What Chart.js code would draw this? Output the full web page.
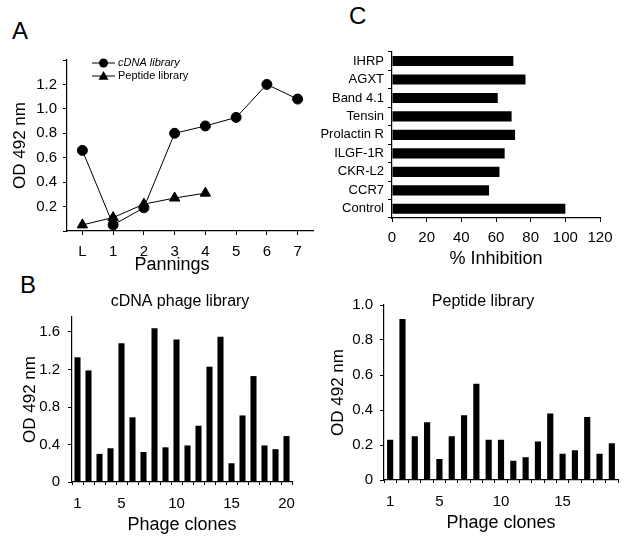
<!DOCTYPE html>
<html>
<head>
<meta charset="utf-8">
<script src="https://cdn.jsdelivr.net/npm/chart.js@4.4.0/dist/chart.umd.min.js"></script>
<style>
  body { margin: 0; background: #fff; }
  #fig { position: relative; width: 625px; height: 536px; overflow: hidden; font-family: "Liberation Sans", Arial, sans-serif; }
  #fig canvas { position: absolute; }
  .panel { position: absolute; font-size: 24px; color: #000; line-height: 1; }
</style>
</head>
<body>
<div id="fig">
  <div class="panel" style="left:12px;top:19px">A</div>
  <div class="panel" style="left:349px;top:4px">C</div>
  <div class="panel" style="left:20px;top:273px">B</div>
  <canvas id="chartA" width="320" height="240" style="left:0;top:40px"></canvas>
  <canvas id="chartC" width="325" height="240" style="left:300px;top:40px"></canvas>
  <canvas id="chartB1" width="310" height="251" style="left:0;top:285px"></canvas>
  <canvas id="chartB2" width="315" height="251" style="left:310px;top:285px"></canvas>
</div>
<script>
// Panel A: OD after each panning round
const panningRounds = ['L', '1', '2', '3', '4', '5', '6', '7'];
const cdnaPanning = [0.66, 0.05, 0.19, 0.80, 0.86, 0.93, 1.20, 1.08];
const peptidePanning = [0.05, 0.11, 0.22, 0.27, 0.31, null, null, null];

// Panel C: % inhibition
const inhibitionTargets = ['IHRP', 'AGXT', 'Band 4.1', 'Tensin', 'Prolactin R', 'ILGF-1R', 'CKR-L2', 'CCR7', 'Control'];
const inhibitionValues = [70, 77, 61, 69, 71, 65, 62, 56, 100];

// Panel B: individual phage clones
const cdnaClones = ['1','2','3','4','5','6','7','8','9','10','11','12','13','14','15','16','17','18','19','20'];
const cdnaCloneOD = [1.33, 1.19, 0.30, 0.36, 1.48, 0.69, 0.32, 1.64, 0.37, 1.52, 0.39, 0.60, 1.23, 1.55, 0.20, 0.71, 1.13, 0.39, 0.35, 0.49];
const peptideClones = ['1','2','3','4','5','6','7','8','9','10','11','12','13','14','15','16','17','18','19'];
const peptideCloneOD = [0.23, 0.92, 0.25, 0.33, 0.12, 0.25, 0.37, 0.55, 0.23, 0.23, 0.11, 0.13, 0.22, 0.38, 0.15, 0.17, 0.36, 0.15, 0.21];
const shownCloneTicks = ['1', '5', '10', '15', '20'];

const FONT = '"Liberation Sans", Arial, sans-serif';
Chart.defaults.font.family = FONT;
Chart.defaults.color = '#000';
Chart.defaults.animation = false;

// free text drawn on the canvas (subplot titles, off-centre axis title)
const notesPlugin = {
  id: 'notes',
  afterDraw(chart, args, opts) {
    const ctx = chart.ctx;
    (opts.items || []).forEach(n => {
      ctx.save();
      ctx.font = n.font;
      ctx.fillStyle = '#000';
      ctx.textAlign = n.align || 'center';
      ctx.textBaseline = 'middle';
      ctx.fillText(n.text, n.x, n.y);
      ctx.restore();
    });
  }
};

// legend with a line through the marker, like the original
const lineLegend = {
  id: 'lineLegend',
  afterDraw(chart, args, opts) {
    if (!opts.x) return;
    const ctx = chart.ctx;
    chart.data.datasets.forEach((ds, i) => {
      const y = opts.y + i * opts.gap;
      const cx = opts.x + opts.len / 2;
      ctx.save();
      ctx.strokeStyle = '#000';
      ctx.fillStyle = '#000';
      ctx.lineWidth = 1;
      ctx.beginPath();
      ctx.moveTo(opts.x, y);
      ctx.lineTo(opts.x + opts.len, y);
      ctx.stroke();
      ctx.beginPath();
      if (ds.pointStyle === 'triangle') {
        const r = 5;
        ctx.moveTo(cx, y - r);
        ctx.lineTo(cx + r, y + r * 0.75);
        ctx.lineTo(cx - r, y + r * 0.75);
        ctx.closePath();
      } else {
        ctx.arc(cx, y, 4.5, 0, Math.PI * 2);
      }
      ctx.fill();
      ctx.font = (ds.legendItalic ? 'italic ' : '') + '11px ' + FONT;
      ctx.textAlign = 'left';
      ctx.textBaseline = 'middle';
      ctx.fillText(ds.label, opts.x + opts.len + 3, y);
      ctx.restore();
    });
  }
};

function axisGrid() {
  return { display: true, drawOnChartArea: false, drawTicks: true, tickLength: 4, color: '#000', lineWidth: 1 };
}
function axisBorder() {
  return { display: true, color: '#000', width: 1.2 };
}

// ---- Panel A ----
new Chart(document.getElementById('chartA'), {
  type: 'line',
  data: {
    labels: panningRounds,
    datasets: [
      {
        label: 'cDNA library', data: cdnaPanning, legendItalic: true,
        borderColor: '#000', backgroundColor: '#000', borderWidth: 1,
        pointStyle: 'circle', pointRadius: 5, tension: 0
      },
      {
        label: 'Peptide library', data: peptidePanning,
        borderColor: '#000', backgroundColor: '#000', borderWidth: 1,
        pointStyle: 'triangle', pointRadius: 6, tension: 0
      }
    ]
  },
  options: {
    responsive: false,
    layout: { padding: { top: 20, right: 7, left: 0, bottom: 0 } },
    plugins: {
      legend: { display: false },
      tooltip: { enabled: false },
      lineLegend: { x: 25 + 67, y: 23, gap: 13, len: 23 },
      notes: { items: [{ text: 'Pannings', x: 172, y: 225, font: '18px ' + FONT }] }
    },
    scales: {
      x: {
        offset: true,
        grid: axisGrid(),
        border: axisBorder(),
        ticks: { font: { size: 15 }, padding: 8, maxRotation: 0 },
        afterFit(s) { s.height = 49; }
      },
      y: {
        min: 0, max: 1.4,
        grid: axisGrid(),
        border: axisBorder(),
        ticks: {
          stepSize: 0.2, font: { size: 15 }, padding: 6,
          callback: v => (v < 0.1 || v > 1.3) ? '' : v.toFixed(1)
        },
        title: { display: true, text: 'OD 492 nm', font: { size: 17 }, padding: { top: 10, bottom: 0 } },
        afterFit(s) { s.width = 67; }
      }
    }
  },
  plugins: [lineLegend, notesPlugin]
});

// ---- Panel C ----
new Chart(document.getElementById('chartC'), {
  type: 'bar',
  data: {
    labels: inhibitionTargets,
    datasets: [{ data: inhibitionValues, backgroundColor: '#000', barPercentage: 0.55, categoryPercentage: 1 }]
  },
  options: {
    responsive: false,
    indexAxis: 'y',
    layout: { padding: { top: 8, right: 25, left: 0, bottom: 0 } },
    plugins: { legend: { display: false }, tooltip: { enabled: false } },
    scales: {
      x: {
        min: 0, max: 120,
        grid: axisGrid(),
        border: axisBorder(),
        ticks: { stepSize: 20, font: { size: 15 }, padding: 7, maxRotation: 0 },
        title: { display: true, text: '% Inhibition', font: { size: 18 }, padding: { top: 0, bottom: 10 } },
        afterFit(s) { s.height = 62; }
      },
      y: {
        grid: axisGrid(),
        border: axisBorder(),
        ticks: { font: { size: 13 }, padding: 4, autoSkip: false },
        afterFit(s) { s.width = 92; }
      }
    }
  }
});

// ---- Panel B ----
function cloneChart(id, labels, values, yMax, yStep, yWidth, yPad, titlePad, pad, barPct, title) {
  return new Chart(document.getElementById(id), {
    type: 'bar',
    data: {
      labels: labels,
      datasets: [{ data: values, backgroundColor: '#000', barPercentage: barPct, categoryPercentage: 1 }]
    },
    options: {
      responsive: false,
      layout: { padding: pad },
      plugins: {
        legend: { display: false },
        tooltip: { enabled: false },
        notes: { items: [title] }
      },
      scales: {
        x: {
          grid: Object.assign(axisGrid(), { tickLength: 3 }),
          border: axisBorder(),
          ticks: {
            font: { size: 15 }, padding: 10, autoSkip: false, maxRotation: 0,
            callback: function (v) {
              const l = this.getLabelForValue(v);
              return shownCloneTicks.includes(l) ? l : '';
            }
          },
          title: { display: true, text: 'Phage clones', font: { size: 18 }, padding: { top: 0, bottom: 0 } },
          afterFit(s) { s.height = 54; }
        },
        y: {
          min: 0, max: yMax,
          grid: axisGrid(),
          border: axisBorder(),
          ticks: {
            stepSize: yStep, includeBounds: false, font: { size: 15 }, padding: yPad,
            callback: v => v === 0 ? '0' : v.toFixed(1)
          },
          title: { display: true, text: 'OD 492 nm', font: { size: 17 }, padding: { top: titlePad, bottom: 0 } },
          afterFit(s) { s.width = yWidth; }
        }
      }
    },
    plugins: [notesPlugin]
  });
}

cloneChart('chartB1', cdnaClones, cdnaCloneOD, 1.76, 0.4, 72, 8, 20,
  { top: 32, right: 18, left: 0, bottom: 0 }, 0.55,
  { text: 'cDNA phage library', x: 180, y: 17, font: '16px ' + FONT });

cloneChart('chartB2', peptideClones, peptideCloneOD, 1.0, 0.2, 74, 7, 18,
  { top: 20, right: 7, left: 0, bottom: 2 }, 0.5,
  { text: 'Peptide library', x: 173, y: 17, font: '16px ' + FONT });
</script>
</body>
</html>
